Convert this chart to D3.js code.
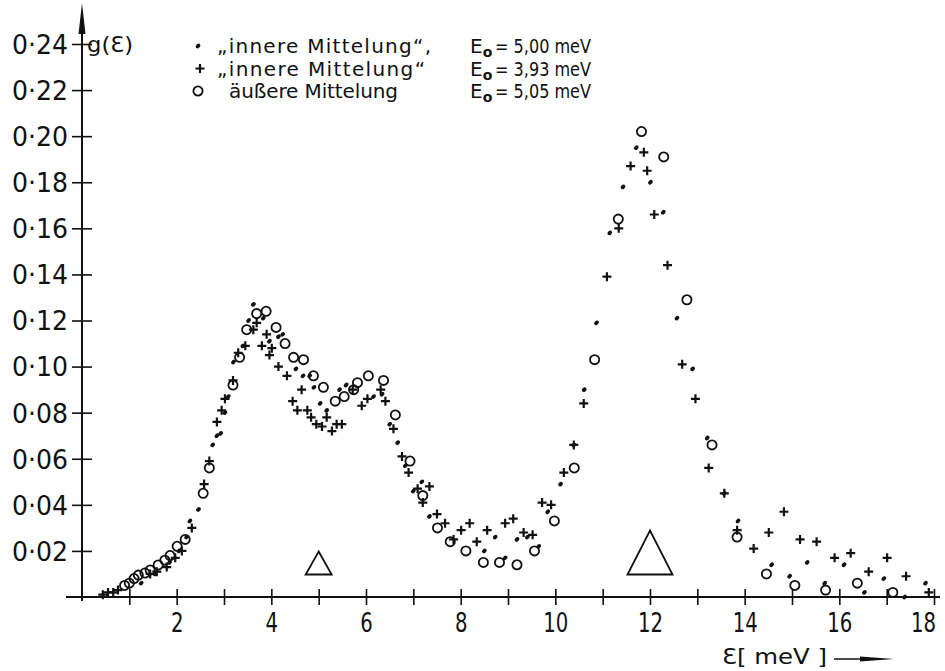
<!DOCTYPE html>
<html>
<head>
<meta charset="utf-8">
<script src="https://cdn.jsdelivr.net/npm/d3@7"></script>
<style>
  body { margin: 0; background: #fff; }
  svg { display: block; }
  .tick text { font-family: "DejaVu Sans", sans-serif; fill: #111; }
</style>
</head>
<body>
<script>
// inner averaging, E0 = 5.00 meV (dots)
var innerDots = [[1.25,0.006],[1.55,0.010],[1.85,0.015],[2.05,0.020],
    [2.21,0.026],[2.28,0.033],[2.46,0.038],[2.76,0.066],[2.85,0.070],[2.93,0.071],
    [3.02,0.080],[3.09,0.087],[3.20,0.102],[3.40,0.109],[3.52,0.120],[3.62,0.127],
    [3.83,0.121],[3.96,0.111],[4.15,0.113],[4.24,0.114],[4.52,0.099],[4.67,0.096],
    [4.81,0.096],[4.90,0.091],[5.03,0.084],[5.17,0.081],[5.44,0.090],[5.58,0.092],
    [6.16,0.087],[6.34,0.088],[6.50,0.075],[6.67,0.067],[6.83,0.057],[7.00,0.046],
    [7.18,0.050],[7.34,0.035],[8.50,0.020],[8.73,0.026],[8.94,0.017],[9.19,0.025],
    [9.41,0.026],[9.65,0.022],[9.84,0.037],[10.11,0.049],[10.39,0.066],[10.61,0.090],
    [10.87,0.119],[11.15,0.158],[11.43,0.178],[11.71,0.195],[12.01,0.180],[12.28,0.167],
    [12.57,0.121],[12.90,0.099],[13.21,0.069],[13.57,0.045],[13.86,0.033],[14.57,0.014],
    [14.95,0.009],[15.32,0.015],[15.69,0.006],[16.10,0.014],[16.53,0.002],[16.94,0.008],
    [17.38,0.000],[17.82,0.006]];

// inner averaging, E0 = 3.93 meV (crosses)
var innerPlus = [[0.44,0.001],[0.55,0.002],[0.66,0.002],[0.76,0.003],
    [1.44,0.010],[1.58,0.011],[1.79,0.013],[1.97,0.017],[2.11,0.020],[2.32,0.030],
    [2.58,0.049],[2.69,0.059],[2.85,0.076],[2.95,0.081],[3.02,0.086],[3.19,0.094],
    [3.30,0.106],[3.45,0.109],[3.62,0.116],[3.69,0.119],[3.80,0.109],[3.90,0.114],
    [3.96,0.105],[4.01,0.108],[4.15,0.100],[4.33,0.096],[4.45,0.085],[4.64,0.090],
    [4.55,0.081],[4.76,0.081],[4.84,0.078],[4.95,0.075],[5.07,0.074],[5.17,0.078],
    [5.28,0.072],[5.38,0.075],[5.49,0.075],[5.72,0.090],[5.91,0.083],[6.03,0.086],
    [6.31,0.090],[6.41,0.085],[6.58,0.073],[6.76,0.061],[6.90,0.054],[7.09,0.047],
    [7.34,0.048],[7.20,0.041],[7.50,0.036],[7.67,0.032],[7.85,0.025],[8.01,0.029],
    [8.19,0.032],[8.34,0.024],[8.56,0.029],[8.94,0.032],[9.11,0.034],[9.33,0.028],
    [9.52,0.027],[9.72,0.041],[9.91,0.040],[10.18,0.054],[10.39,0.066],[10.60,0.084],
    [11.09,0.139],[11.34,0.160],[11.59,0.187],[11.87,0.193],[11.94,0.185],[12.09,0.166],
    [12.37,0.144],[12.68,0.101],[12.96,0.086],[13.24,0.056],[13.57,0.045],[13.84,0.029],
    [14.19,0.021],[14.51,0.028],[14.83,0.037],[15.17,0.025],[15.52,0.024],[15.90,0.017],
    [16.24,0.019],[16.62,0.011],[17.01,0.017],[17.41,0.009],[17.89,0.002]];

// outer averaging, E0 = 5.05 meV (open circles)
var outerCircles = [[0.90,0.005],[1.00,0.006],[1.10,0.008],[1.19,0.0095],[1.33,0.0104],
    [1.44,0.0117],[1.61,0.0139],[1.75,0.016],[1.86,0.018],[2.01,0.022],[2.18,0.025],
    [2.56,0.045],[2.69,0.056],[3.19,0.092],[3.33,0.104],[3.48,0.116],[3.69,0.123],
    [3.89,0.124],[4.10,0.117],[4.29,0.110],[4.47,0.104],[4.68,0.103],[4.89,0.096],
    [5.10,0.091],[5.35,0.085],[5.54,0.087],[5.74,0.090],[5.82,0.093],[6.05,0.096],
    [6.37,0.094],[6.62,0.079],[6.93,0.059],[7.20,0.044],[7.51,0.030],[7.78,0.024],
    [8.11,0.020],[8.48,0.015],[8.82,0.015],[9.19,0.014],[9.56,0.020],[9.98,0.033],
    [10.40,0.056],[10.83,0.103],[11.33,0.164],[11.82,0.202],[12.29,0.191],[12.78,0.129],
    [13.31,0.066],[13.84,0.026],[14.46,0.010],[15.06,0.005],[15.71,0.003],[16.38,0.006],
    [17.13,0.002]];

var markerE = [5, 12];
var xTicks = [1,2,3,4,5,6,7,8,9,10,11,12,13,14,15,16,17,18];
var xLabels = ["2","4","6","8","10","12","14","16","18"];
var yTicks = [0.02,0.04,0.06,0.08,0.10,0.12,0.14,0.16,0.18,0.20,0.22,0.24];
var yLabels = ["0·02","0·04","0·06","0·08","0·10","0·12","0·14","0·16","0·18","0·20","0·22","0·24"];
var legendNames = ["„innere Mittelung“,", "„innere Mittelung“", "äußere Mittelung"];
var legendE0 = ["= 5,00 meV", "= 3,93 meV", "= 5,05 meV"];

var width = 945, height = 671;
var ink = "#111";

var svg = d3.select("body").append("svg")
    .attr("width", width)
    .attr("height", height);

var x = d3.scaleLinear().domain([0, 18]).range([82, 934]);
var y = d3.scaleLinear().domain([0, 0.24]).range([597, 44]);

// x axis with crossing ticks
var xAxis = svg.append("g")
    .attr("transform", "translate(0," + y(0) + ")")
    .call(d3.axisBottom(x).tickValues(xTicks)
        .tickFormat(function(d) { return d % 2 === 0 ? xLabels[d / 2 - 1] : ""; }));
xAxis.select(".domain").remove();
xAxis.append("line")
    .attr("x1", 66).attr("x2", 940)
    .attr("stroke", ink).attr("stroke-width", 2);
xAxis.selectAll(".tick line")
    .attr("y1", -8).attr("y2", 8)
    .attr("stroke", ink).attr("stroke-width", 1.6);
xAxis.selectAll(".tick text")
    .attr("y", 35).attr("dy", 0)
    .attr("font-size", 26)
    .each(function(d) {
        var n = this.textContent.length;
        if (n) d3.select(this).attr("textLength", n * 12.5).attr("lengthAdjust", "spacingAndGlyphs");
        if (d === 18) d3.select(this).attr("x", -11);
    });

// y axis
var yAxis = svg.append("g")
    .attr("transform", "translate(" + x(0) + ",0)")
    .call(d3.axisLeft(y).tickValues(yTicks)
        .tickFormat(function(d, i) { return yLabels[i]; }));
yAxis.select(".domain").remove();
yAxis.append("line")
    .attr("y1", 601).attr("y2", 28)
    .attr("stroke", ink).attr("stroke-width", 2);
yAxis.append("path")
    .attr("d", "M0,3 L3.5,34 L-3.5,34 Z")
    .attr("fill", ink);
yAxis.selectAll(".tick line")
    .attr("x1", -10).attr("x2", 10)
    .attr("stroke", ink).attr("stroke-width", 1.6);
yAxis.selectAll(".tick text")
    .attr("x", -14).attr("dy", "0.36em")
    .attr("font-size", 26)
    .attr("textLength", 56)
    .attr("lengthAdjust", "spacingAndGlyphs");

// axis captions
svg.append("text")
    .attr("x", 87).attr("y", 52)
    .attr("font-family", "DejaVu Sans, sans-serif")
    .attr("font-size", 21)
    .attr("textLength", 46)
    .attr("lengthAdjust", "spacingAndGlyphs")
    .attr("fill", ink)
    .text("g(Ɛ)");

svg.append("text")
    .attr("x", 722).attr("y", 664)
    .attr("font-family", "DejaVu Sans, sans-serif")
    .attr("font-size", 21)
    .attr("textLength", 105)
    .attr("lengthAdjust", "spacingAndGlyphs")
    .attr("fill", ink)
    .text("Ɛ[ meV ]");
svg.append("line")
    .attr("x1", 834).attr("x2", 872).attr("y1", 659).attr("y2", 659)
    .attr("stroke", ink).attr("stroke-width", 1.5);
svg.append("path")
    .attr("d", "M860,656.5 L894,659 L860,661.5 Z")
    .attr("fill", ink);

// marker drawing
function drawDot(g) {
    g.append("ellipse").attr("rx", 2.6).attr("ry", 2.0)
        .attr("transform", "rotate(-40)")
        .attr("fill", ink);
}
function drawPlus(g) {
    g.append("path").attr("d", "M-4.5,0 H4.5 M0,-4.5 V4.5")
        .attr("stroke", ink).attr("stroke-width", 2.2).attr("fill", "none");
}
function drawCircle(g) {
    g.append("circle").attr("r", 4.6)
        .attr("fill", "none").attr("stroke", ink).attr("stroke-width", 1.8);
}

function series(data, draw) {
    svg.append("g").selectAll("g")
        .data(data)
        .enter()
        .append("g")
        .attr("transform", function(d) {
            return "translate(" + x(d[0]) + "," + y(d[1]) + ")";
        })
        .each(function() { draw(d3.select(this)); });
}
series(outerCircles, drawCircle);
series(innerPlus, drawPlus);
series(innerDots, drawDot);

// open triangles marking E = 5 and E = 12
var triSize = [{w: 13, h: 23}, {w: 22.5, h: 44}];
svg.append("g").selectAll("path")
    .data(markerE)
    .enter()
    .append("path")
    .attr("d", function(d, i) {
        var cx = x(d), base = 574.5, s = triSize[i];
        return "M" + cx + "," + (base - s.h) + " L" + (cx + s.w) + "," + base +
            " L" + (cx - s.w) + "," + base + " Z";
    })
    .attr("fill", "none")
    .attr("stroke", ink)
    .attr("stroke-width", 1.8)
    .attr("stroke-linejoin", "miter");

// legend
var markers = [drawDot, drawPlus, drawCircle];
var nameLen = [214, 208, 169];
var legend = svg.append("g")
    .attr("font-family", "DejaVu Sans, sans-serif")
    .attr("font-size", 20)
    .attr("fill", ink);
legendNames.forEach(function(name, i) {
    var ly = 46 + i * 22.5;
    var m = legend.append("g").attr("transform", "translate(" + (i === 1 ? 200 : 198) + "," + ly + ")");
    markers[i](m);
    legend.append("text")
        .attr("x", i === 2 ? 229 : 217).attr("y", ly + 7)
        .attr("textLength", nameLen[i])
        .attr("lengthAdjust", "spacing")
        .text(name);
    var t = legend.append("text")
        .attr("x", 470).attr("y", ly + 7);
    t.append("tspan").text("E");
    t.append("tspan").attr("dy", 4).attr("font-size", 14).attr("font-weight", "bold").text("o");
    legend.append("text")
        .attr("x", 495).attr("y", ly + 7)
        .attr("textLength", 96)
        .attr("lengthAdjust", "spacingAndGlyphs")
        .text(legendE0[i]);
});
</script>
</body>
</html>
